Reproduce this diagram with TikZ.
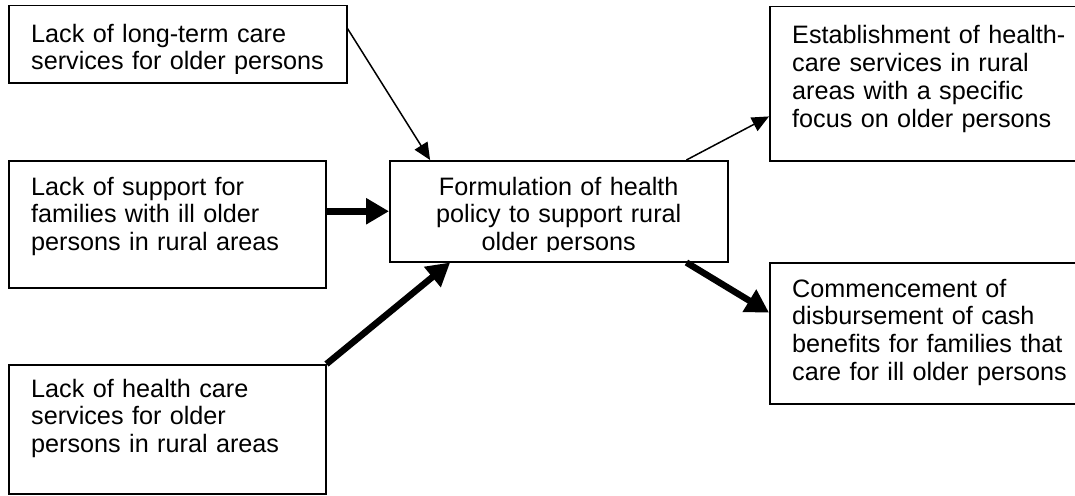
\documentclass[tikz,border=0pt]{standalone}
\usepackage{fontspec}
\setmainfont{Liberation Sans}
\usetikzlibrary{arrows.meta, calc}

\begin{document}
\begin{tikzpicture}[x=1pt, y=-1pt,
    box/.style={draw, line width=1.5pt, rectangle, inner sep=0pt, anchor=north west},
    boxtext/.style={inner sep=0pt, text width=300pt, align=left, anchor=base west, font=\fontsize{25.2}{27.7}\selectfont},
    thinarrow/.style={line width=1.5pt, -{Triangle[length=17pt,width=15pt]}},
    thickarrow/.style={line width=6.5pt, -{Triangle[length=23pt,width=25pt]}}]
\clip (0,0) rectangle (1075,495);

\node[box, minimum width=338pt, minimum height=77pt] (ltc) at (8,5) {};
\node[box, minimum width=317pt, minimum height=127pt] (fam) at (8,160) {};
\node[box, minimum width=317pt, minimum height=129pt] (hcs) at (8,364) {};
\node[box, minimum width=338pt, minimum height=101pt] (policy) at (389,160) {};
\node[box, minimum width=320pt, minimum height=154pt] (estab) at (769,6) {};
\node[box, minimum width=320pt, minimum height=141pt] (cash) at (769,262) {};

\begin{scope}
\clip (ltc.north west) rectangle ($(ltc.south east)+(0,-10)$);
\node[boxtext] (ltc-text) at ($(ltc.north west)+(23,37)$) {Lack of long-term care\\services for older persons};
\end{scope}
\node[boxtext] (fam-text) at ($(fam.north west)+(23,35)$) {Lack of support for\\families with ill older\\persons in rural areas};
\node[boxtext] (hcs-text) at ($(hcs.north west)+(23,33)$) {Lack of health care\\services for older\\persons in rural areas};
\begin{scope}
\clip (policy.north west) rectangle ($(policy.south east)+(0,-11)$);
\node[boxtext, text width=338pt, align=center, anchor=base] (policy-text) at ($(policy.north)+(0,35)$) {Formulation of health\\policy to support rural\\older persons};
\end{scope}
\node[boxtext] (estab-text) at ($(estab.north west)+(23,38)$) {Establishment of health-\\care services in rural\\areas with a specific\\focus on older persons};
\node[boxtext] (cash-text) at ($(cash.north west)+(23,35)$) {Commencement of\\disbursement of cash\\benefits for families that\\care for ill older persons};

\draw[thinarrow] ($(ltc.north east)!0.3!(ltc.south east)$) -- ($(policy.north west)!0.121!(policy.north east)$);
\draw[thickarrow] (fam.east |- policy.west) -- (policy.west);
\draw[thickarrow] (hcs.north east) -- ($(policy.south west)!0.18!(policy.south east)$);
\draw[thinarrow] ($(policy.north west)!0.876!(policy.north east)$) -- ($(estab.north west)!0.71!(estab.south west)$);
\draw[thickarrow] ($(policy.south west)!0.876!(policy.south east)$) -- ($(cash.north west)!0.355!(cash.south west)$);

\end{tikzpicture}
\end{document}
